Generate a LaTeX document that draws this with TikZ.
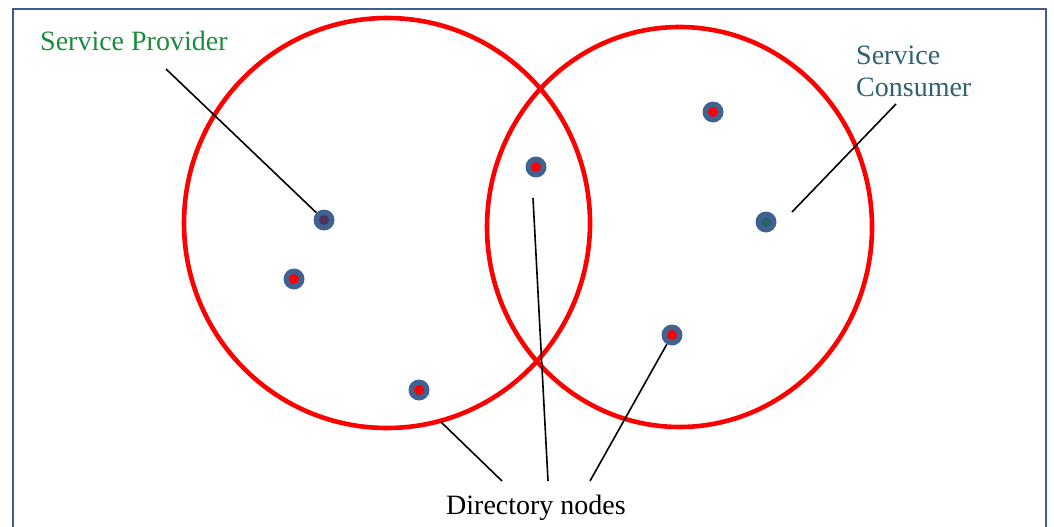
\documentclass[tikz,border=0pt]{standalone}
\usepackage{fontspec}
\setmainfont{Liberation Serif}
\definecolor{frameblue}{HTML}{3B5F8F}
\definecolor{dotblue}{HTML}{3F6291}
\definecolor{provgreen}{HTML}{1A8C3A}
\definecolor{constext}{HTML}{2E6170}
\definecolor{darkin}{HTML}{4A3560}
\definecolor{tealin}{HTML}{2B6168}
\begin{document}
\begin{tikzpicture}[x=1pt,y=-1pt,
  ring/.style={draw=red,line width=4.6pt},
  dot/.style={circle,fill=dotblue,minimum size=21pt,inner sep=0pt},
  core/.style={circle,fill=#1,minimum size=10pt,inner sep=0pt},
  lead/.style={draw=black,line width=1.6pt},
  lbl/.style={font=\fontsize{28}{32}\selectfont,inner sep=0pt,align=left}]
\useasboundingbox (0,0) rectangle (1054,527);
\draw[frameblue,line width=2pt] (12.5,540) -- (12.5,9.5) -- (1046,9.5) -- (1046,540);
\draw[ring] (387,223) ellipse [x radius=203pt,y radius=205pt];
\draw[ring] (679.5,227) ellipse [x radius=192.5pt,y radius=200pt];
% directory / service dots
\foreach \n/\x/\y/\c in {p/324/220/darkin, a/294/279/red, b/419/390/red, c/536/167/red, d/713/112/red, s/766/222/tealin, e/672/335/red}{
  \node[dot] (\n) at (\x,\y) {};
  \node[core=\c] at (\n) {};
}
\node[lbl,text=provgreen,anchor=base west] (prov) at (40,51) {Service Provider};
\node[lbl,text=constext,anchor=base west] (cons) at (856,96) {Service\\[-0.5pt]Consumer};
\node[lbl,anchor=base] (dir) at (536,514) {Directory nodes};
\coordinate (pe) at (166,69);
\coordinate (ce) at (896,104);
\coordinate (ce2) at (792,212);
\coordinate (d1) at (502,481);
\coordinate (d2) at (548,481);
\coordinate (d3) at (590,481);
\coordinate (b1) at (441,422);
\coordinate (c1) at (533,198);
\draw[lead] (pe) -- (p);
\draw[lead] (ce) -- (ce2);
\draw[lead] (b1) -- (d1);
\draw[lead] (c1) -- (d2);
\draw[lead] (e) -- (d3);
\end{tikzpicture}
\end{document}
